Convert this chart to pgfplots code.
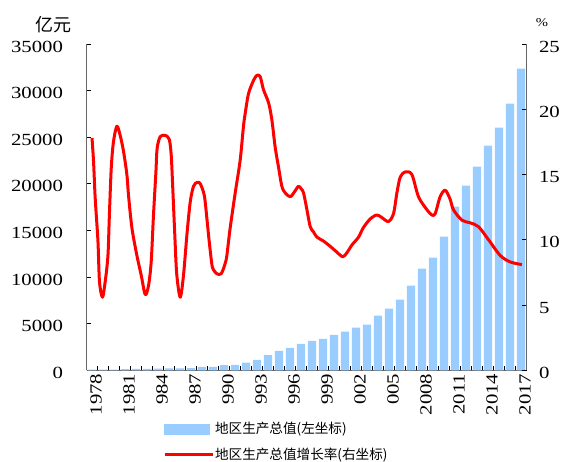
\documentclass[border=0pt]{standalone}
\usepackage{fontspec}
\setmainfont{Liberation Serif}[FakeStretch=1.22]
\newfontfamily\cjk{Noto Sans CJK SC}
\usepackage{pgfplots}
\pgfplotsset{compat=1.18}
\usepackage{pgfplotstable}
\definecolor{barblue}{RGB}{153,204,255}
\newcommand\tickfont{\fontsize{17bp}{17bp}\selectfont}
\newcommand\legfont{\cjk\fontsize{13.6bp}{13.6bp}\selectfont}

\pgfplotstableread{
idx gdp
0 60
1 65
2 80
3 130
4 140
5 150
6 175
7 200
8 215
9 240
10 360
11 370
12 560
13 580
14 820
15 1110
16 1640
17 2080
18 2410
19 2840
20 3160
21 3380
22 3810
23 4140
24 4570
25 4900
26 5860
27 6610
28 7580
29 9080
30 10900
31 12080
32 14340
33 17560
34 19810
35 21850
36 24100
37 26030
38 28610
39 32360
}\gdptable

\pgfplotstableread{
x y
0.00 17.8
0.14 16.0
0.29 13.2
0.54 9.9
0.68 6.8
0.95 5.6
1.20 6.8
1.45 8.8
1.58 11.9
1.75 15.5
1.95 17.5
2.26 18.7
2.56 18.0
2.86 16.8
3.17 15.0
3.32 13.4
3.63 10.9
4.08 8.8
4.47 7.3
4.84 5.8
5.14 6.5
5.38 8.3
5.59 11.9
5.81 15.2
5.92 17.0
6.20 17.9
6.65 18.0
7.02 17.7
7.20 16.5
7.34 14.0
7.52 10.5
7.70 7.4
8.02 5.6
8.32 7.3
8.63 10.4
8.93 12.9
9.23 14.1
9.56 14.4
9.84 14.3
10.15 13.6
10.29 12.9
10.64 10.0
10.90 8.1
11.05 7.7
11.35 7.4
11.75 7.4
12.11 8.2
12.26 8.8
12.56 10.9
13.02 13.6
13.47 16.1
13.77 18.7
13.93 19.7
14.23 21.2
14.68 22.2
14.99 22.6
15.29 22.5
15.59 21.5
16.05 20.5
16.35 19.2
16.65 17.1
16.95 15.6
17.26 14.1
17.56 13.6
18.02 13.3
18.43 13.7
18.77 14.1
19.02 13.9
19.23 13.6
19.54 12.3
19.84 11.0
20.14 10.6
20.45 10.2
21.05 9.9
21.65 9.5
22.20 9.1
22.79 8.7
23.17 9.0
23.63 9.6
24.23 10.2
24.65 10.9
25.29 11.6
25.90 11.9
26.35 11.7
26.95 11.4
27.41 12.0
27.72 13.6
28.02 14.8
28.47 15.2
29.08 15.0
29.68 13.3
30.45 12.3
30.90 11.9
31.20 12.0
31.65 13.3
32.11 13.8
32.56 13.1
32.86 12.3
33.63 11.5
34.38 11.3
35.14 11.0
36.05 10.0
37.11 8.8
38.02 8.3
39.08 8.1
}\ratetable

\begin{document}
\begin{tikzpicture}
\path[use as bounding box] (0,0) rectangle (565bp,462bp);
\begin{axis}[
  at={(86.5bp,91.7bp)}, anchor=south west,
  scale only axis, width=440bp, height=326.3bp,
  xmin=-0.5, xmax=39.5, ymin=0, ymax=35000,
  axis x line*=bottom, axis y line*=left,
  axis line style={draw=black!60, line width=1.2bp, -},
  tick align=inside,
  major tick length=4.5bp,
  tick style={black, line width=0.8bp},
  ytick={0,5000,...,35000},
  scaled y ticks=false,
  /pgf/number format/assume math mode=true,
  /pgf/number format/1000 sep={},
  yticklabel style={font=\tickfont, anchor=east, xshift=-20bp, yshift=-2.5bp},
  xtick={0.5,1.5,...,38.5}, xticklabels={},
  xticklabel style={font=\tickfont, rotate=90, anchor=east, yshift=-4bp},
  extra x ticks={0,3,...,39},
  extra x tick labels={1978,1981,984,987,990,993,996,999,002,005,2008,2011,2014,2017},
  extra x tick style={major tick length=0pt},
]
\addplot[ybar, bar width=0.75, fill=barblue, draw=none] table[x=idx, y=gdp] {\gdptable};
\end{axis}
\begin{axis}[
  at={(86.5bp,91.7bp)}, anchor=south west,
  scale only axis, width=440bp, height=326.3bp,
  xmin=-0.5, xmax=39.5, ymin=0, ymax=25,
  axis x line=none, axis y line*=right,
  axis line style={draw=black!60, line width=1.2bp, -},
  tick align=inside,
  major tick length=4.5bp,
  tick style={black, line width=0.8bp},
  ytick={0,5,...,25},
  /pgf/number format/assume math mode=true,
  yticklabel style={font=\tickfont, anchor=west, xshift=9bp, yshift=-2.5bp},
  legend style={at={(0.174,-0.157)}, anchor=north west, draw=none, fill=none,
    inner sep=0pt, outer sep=0pt, font=\legfont, row sep=10.5bp, column sep=0bp,
    nodes={inner sep=1bp}},
  legend cell align=left,
]
\addlegendimage{legend image code/.code={\fill[barblue] (0bp,-5bp) rectangle (45bp,5bp);}}
\addlegendentry{地区生产总值(左坐标)}
\addplot[red, line width=3bp, smooth, line join=round,
  legend image code/.code={\draw[red, line width=3bp] (0bp,0bp) -- (48bp,0bp);}]
  table[x=x, y=y] {\ratetable};
\addlegendentry{地区生产总值增长率(右坐标)}
\end{axis}
\node at (53.5bp,437.5bp) {\cjk\fontsize{18bp}{18bp}\selectfont 亿元};
\node at (542bp,439bp) {\fontsize{12bp}{12bp}\selectfont\%};
\end{tikzpicture}
\end{document}
